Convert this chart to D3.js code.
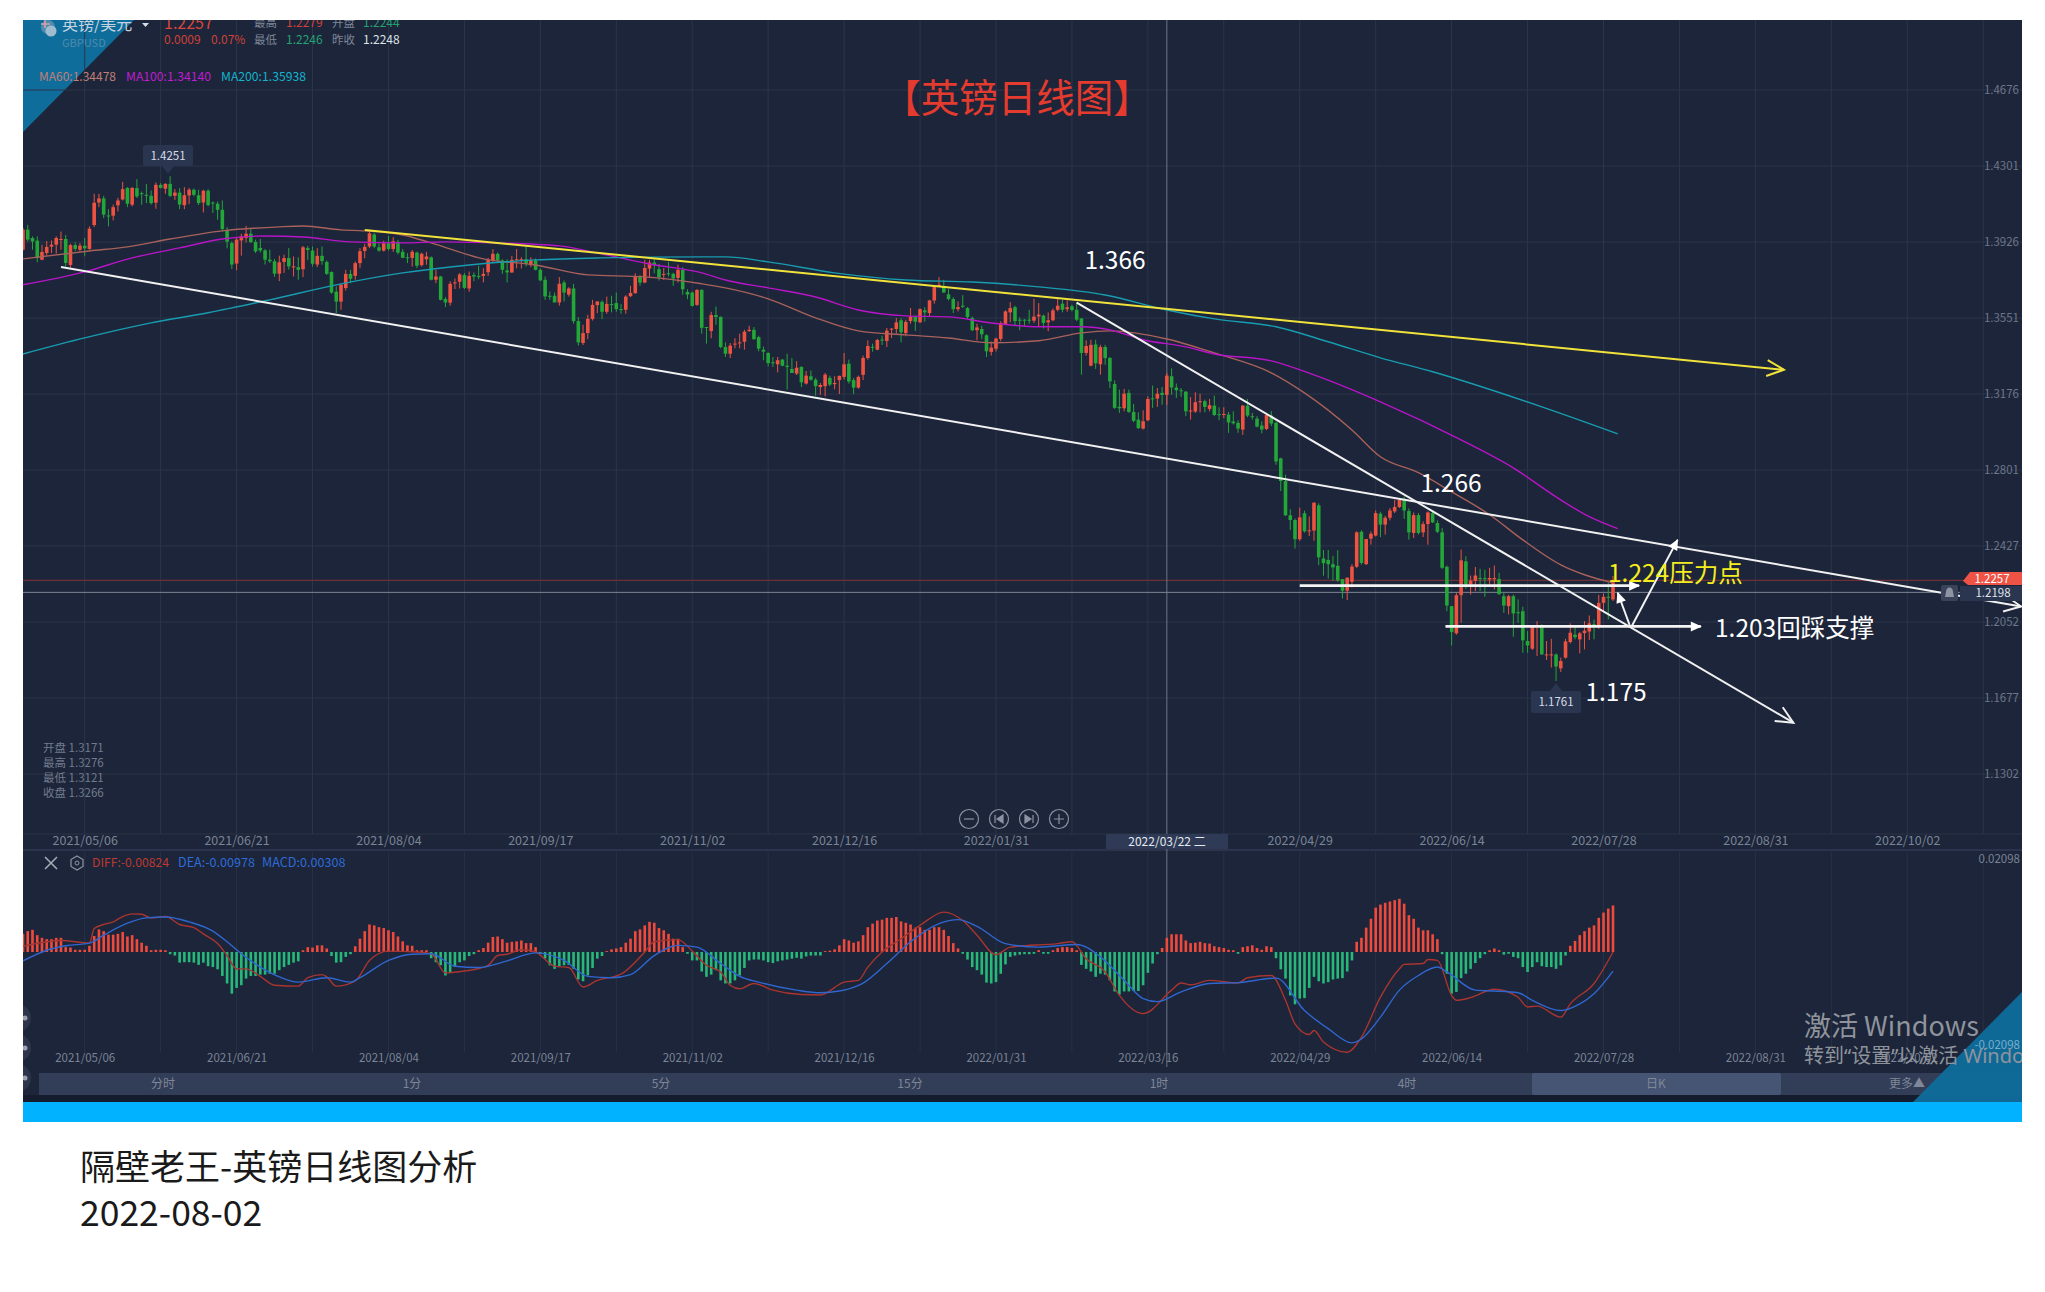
<!DOCTYPE html>
<html>
<head>
<meta charset="utf-8">
<title>GBPUSD</title>
<script src="https://cdnjs.cloudflare.com/ajax/libs/d3/7.8.5/d3.min.js"></script>
<style>
    html, body { margin: 0; padding: 0; background: #fff; }
    svg { display: block; }
    text { font-family: "Noto Sans CJK SC", "Noto Sans", sans-serif; }
</style>
</head>
<body>
<div id="chart"></div>
<script>
// daily candles, index 0 is the left edge of the panel
const opens = [
1.3888,1.3987,1.3946,1.3933,1.3839,1.3872,1.3903,1.3913,1.3938,1.3941,
1.3813,1.3911,1.3888,1.3908,1.3892,1.4010,1.4121,1.4141,1.4057,1.4056,
1.4107,1.4136,1.4193,1.4110,1.4192,1.4167,1.4159,1.4154,1.4120,1.4208,
1.4189,1.4213,1.4154,1.4170,1.4108,1.4156,1.4184,1.4157,1.4121,1.4179,
1.4121,1.4115,1.4085,1.3984,1.3921,1.3820,1.3934,1.3946,1.3967,1.3926,
1.3897,1.3885,1.3839,1.3831,1.3770,1.3828,1.3847,1.3803,1.3802,1.3792,
1.3896,1.3884,1.3815,1.3858,1.3828,1.3778,1.3681,1.3632,1.3699,1.3769,
1.3759,1.3822,1.3882,1.3904,1.3963,1.3900,1.3884,1.3920,1.3892,1.3927,
1.3878,1.3851,1.3848,1.3874,1.3812,1.3841,1.3851,1.3740,1.3756,1.3645,
1.3627,1.3722,1.3730,1.3763,1.3697,1.3763,1.3759,1.3759,1.3777,1.3835,
1.3868,1.3835,1.3786,1.3776,1.3838,1.3835,1.3841,1.3812,1.3835,1.3789,
1.3740,1.3661,1.3661,1.3628,1.3726,1.3667,1.3697,1.3536,1.3428,1.3477,
1.3546,1.3615,1.3631,1.3582,1.3620,1.3625,1.3595,1.3592,1.3659,1.3674,
1.3756,1.3726,1.3795,1.3825,1.3792,1.3766,1.3772,1.3769,1.3749,1.3789,
1.3680,1.3677,1.3616,1.3690,1.3507,1.3487,1.3566,1.3557,1.3408,1.3375,
1.3421,1.3428,1.3434,1.3487,1.3493,1.3457,1.3395,1.3379,1.3333,1.3323,
1.3346,1.3316,1.3300,1.3277,1.3310,1.3228,1.3264,1.3247,1.3211,1.3215,
1.3256,1.3225,1.3245,1.3261,1.3326,1.3245,1.3208,1.3271,1.3354,1.3409,
1.3395,1.3445,1.3438,1.3494,1.3497,1.3540,1.3477,1.3536,1.3556,1.3530,
1.3589,1.3576,1.3638,1.3707,1.3707,1.3668,1.3645,1.3595,1.3612,1.3600,
1.3551,1.3491,1.3497,1.3466,1.3384,1.3400,1.3448,1.3522,1.3579,1.3605,
1.3543,1.3543,1.3543,1.3538,1.3559,1.3563,1.3530,1.3540,1.3592,1.3622,
1.3595,1.3609,1.3592,1.3549,1.3379,1.3316,1.3421,1.3323,1.3408,1.3354,
1.3226,1.3113,1.3106,1.3182,1.3088,1.3050,1.3006,1.3047,1.3155,1.3154,
1.3182,1.3172,1.3264,1.3208,1.3195,1.3188,1.3091,1.3090,1.3136,1.3141,
1.3103,1.3119,1.3077,1.3073,1.3075,1.3041,1.3034,1.3001,1.3119,1.3067,
1.3055,1.3021,1.3004,1.3070,1.3034,1.2859,1.2747,1.2578,1.2555,1.2460,
1.2588,1.2499,1.2503,1.2627,1.2365,1.2358,1.2337,1.2329,1.2263,1.2206,
1.2250,1.2324,1.2497,1.2337,1.2463,1.2478,1.2586,1.2532,1.2566,1.2597,
1.2619,1.2655,1.2599,1.2491,1.2579,1.2494,1.2535,1.2589,1.2540,1.2494,
1.2324,1.2130,1.1996,1.2184,1.2351,1.2237,1.2255,1.2269,1.2268,1.2261,
1.2263,1.2264,1.2179,1.2130,1.2179,1.2100,1.2105,1.1958,1.1920,1.2031,
1.2028,1.1889,1.1889,1.1891,1.1823,1.1876,1.1953,1.1989,1.1966,1.1997,
1.2005,1.2041,1.2028,1.2146,1.2176,1.2163];
const highs = [
1.3995,1.4011,1.3954,1.3954,1.3913,1.3931,1.3934,1.3954,1.3978,1.3961,
1.3918,1.3924,1.3921,1.3946,1.4003,1.4164,1.4164,1.4154,1.4088,1.4111,
1.4144,1.4223,1.4197,1.4197,1.4236,1.4175,1.4213,1.4180,1.4220,1.4216,
1.4216,1.4251,1.4187,1.4192,1.4197,1.4193,1.4190,1.4184,1.4184,1.4187,
1.4126,1.4126,1.4131,1.4000,1.3929,1.3946,1.3967,1.4006,1.3990,1.3938,
1.3941,1.3892,1.3888,1.3843,1.3859,1.3864,1.3896,1.3855,1.3851,1.3907,
1.3907,1.3904,1.3896,1.3904,1.3835,1.3781,1.3707,1.3720,1.3789,1.3789,
1.3830,1.3896,1.3917,1.3983,1.3973,1.3920,1.3933,1.3956,1.3950,1.3937,
1.3891,1.3871,1.3887,1.3879,1.3874,1.3878,1.3855,1.3789,1.3759,1.3655,
1.3732,1.3746,1.3773,1.3773,1.3781,1.3776,1.3809,1.3797,1.3848,1.3891,
1.3874,1.3841,1.3841,1.3858,1.3891,1.3851,1.3904,1.3851,1.3845,1.3797,
1.3756,1.3682,1.3677,1.3753,1.3736,1.3703,1.3720,1.3556,1.3518,1.3567,
1.3641,1.3633,1.3638,1.3657,1.3661,1.3677,1.3620,1.3664,1.3710,1.3772,
1.3764,1.3838,1.3838,1.3841,1.3818,1.3797,1.3828,1.3775,1.3815,1.3802,
1.3693,1.3682,1.3693,1.3693,1.3507,1.3582,1.3608,1.3559,1.3431,1.3428,
1.3451,1.3474,1.3493,1.3513,1.3507,1.3464,1.3411,1.3382,1.3359,1.3359,
1.3349,1.3375,1.3354,1.3338,1.3313,1.3290,1.3293,1.3255,1.3231,1.3280,
1.3267,1.3264,1.3267,1.3379,1.3346,1.3256,1.3267,1.3366,1.3441,1.3425,
1.3448,1.3464,1.3502,1.3502,1.3551,1.3551,1.3543,1.3600,1.3563,1.3599,
1.3605,1.3641,1.3710,1.3753,1.3740,1.3694,1.3654,1.3633,1.3664,1.3605,
1.3559,1.3523,1.3513,1.3471,1.3435,1.3454,1.3535,1.3589,1.3630,1.3612,
1.3554,1.3546,1.3592,1.3646,1.3625,1.3568,1.3579,1.3599,1.3645,1.3641,
1.3638,1.3617,1.3628,1.3551,1.3441,1.3444,1.3444,1.3419,1.3419,1.3359,
1.3244,1.3198,1.3201,1.3198,1.3127,1.3086,1.3096,1.3165,1.3218,1.3206,
1.3211,1.3280,1.3303,1.3228,1.3206,1.3191,1.3162,1.3185,1.3178,1.3149,
1.3152,1.3168,1.3111,1.3111,1.3088,1.3091,1.3047,1.3122,1.3152,1.3083,
1.3067,1.3042,1.3080,1.3093,1.3041,1.2862,1.2778,1.2608,1.2562,1.2616,
1.2601,1.2572,1.2643,1.2637,1.2407,1.2407,1.2378,1.2406,1.2263,1.2273,
1.2337,1.2499,1.2504,1.2461,1.2499,1.2602,1.2596,1.2576,1.2614,1.2655,
1.2658,1.2671,1.2612,1.2592,1.2589,1.2548,1.2597,1.2602,1.2553,1.2515,
1.2330,1.2130,1.2196,1.2409,1.2376,1.2281,1.2323,1.2314,1.2310,1.2319,
1.2330,1.2294,1.2196,1.2186,1.2187,1.2163,1.2127,1.2007,1.2032,1.2056,
1.2040,1.1958,1.1969,1.1897,1.1876,1.1969,1.2045,1.2028,1.2002,1.2056,
1.2084,1.2064,1.2186,1.2192,1.2245,1.2279];
const lows = [
1.3885,1.3929,1.3888,1.3826,1.3836,1.3859,1.3872,1.3869,1.3888,1.3806,
1.3800,1.3882,1.3880,1.3856,1.3888,1.4000,1.4098,1.4044,1.4003,1.4033,
1.4077,1.4131,1.4098,1.4102,1.4143,1.4110,1.4118,1.4111,1.4090,1.4190,
1.4164,1.4147,1.4134,1.4088,1.4088,1.4113,1.4151,1.4108,1.4072,1.4102,
1.4069,1.4036,1.3979,1.3895,1.3793,1.3787,1.3859,1.3924,1.3921,1.3872,
1.3875,1.3815,1.3823,1.3754,1.3733,1.3774,1.3790,1.3756,1.3740,1.3753,
1.3838,1.3805,1.3802,1.3814,1.3764,1.3671,1.3576,1.3592,1.3687,1.3723,
1.3740,1.3797,1.3846,1.3896,1.3896,1.3878,1.3879,1.3884,1.3878,1.3864,
1.3848,1.3822,1.3805,1.3797,1.3805,1.3814,1.3737,1.3723,1.3638,1.3605,
1.3612,1.3694,1.3697,1.3694,1.3681,1.3733,1.3743,1.3727,1.3759,1.3825,
1.3825,1.3769,1.3727,1.3773,1.3796,1.3796,1.3805,1.3802,1.3786,1.3733,
1.3641,1.3641,1.3628,1.3612,1.3633,1.3657,1.3523,1.3415,1.3418,1.3447,
1.3539,1.3575,1.3546,1.3572,1.3579,1.3582,1.3572,1.3572,1.3654,1.3670,
1.3710,1.3723,1.3748,1.3772,1.3736,1.3739,1.3756,1.3710,1.3726,1.3666,
1.3644,1.3608,1.3611,1.3474,1.3425,1.3451,1.3518,1.3402,1.3359,1.3354,
1.3402,1.3402,1.3395,1.3483,1.3444,1.3387,1.3343,1.3313,1.3310,1.3283,
1.3313,1.3198,1.3280,1.3270,1.3211,1.3223,1.3242,1.3169,1.3172,1.3165,
1.3215,1.3199,1.3176,1.3248,1.3228,1.3176,1.3202,1.3245,1.3346,1.3385,
1.3392,1.3418,1.3408,1.3453,1.3474,1.3431,1.3461,1.3523,1.3487,1.3527,
1.3533,1.3559,1.3622,1.3704,1.3677,1.3638,1.3576,1.3584,1.3600,1.3546,
1.3487,1.3441,1.3448,1.3359,1.3366,1.3386,1.3436,1.3517,1.3530,1.3513,
1.3491,1.3510,1.3523,1.3527,1.3507,1.3500,1.3486,1.3535,1.3584,1.3579,
1.3582,1.3584,1.3536,1.3272,1.3366,1.3313,1.3300,1.3272,1.3321,1.3205,
1.3103,1.3083,1.3091,1.3083,1.3037,1.3004,1.3001,1.3042,1.3108,1.3113,
1.3124,1.3123,1.3173,1.3157,1.3162,1.3067,1.3050,1.3083,1.3086,1.3086,
1.3091,1.3067,1.3047,1.3057,1.2985,1.3026,1.2985,1.2975,1.3062,1.3050,
1.3011,1.2982,1.2998,1.3018,1.2827,1.2698,1.2575,1.2506,1.2414,1.2452,
1.2493,1.2476,1.2453,1.2332,1.2280,1.2266,1.2255,1.2250,1.2168,1.2160,
1.2222,1.2319,1.2335,1.2333,1.2433,1.2474,1.2471,1.2483,1.2553,1.2589,
1.2614,1.2560,1.2458,1.2466,1.2483,1.2471,1.2433,1.2540,1.2491,1.2314,
1.2105,1.1936,1.1989,1.2048,1.2215,1.2187,1.2204,1.2204,1.2176,1.2237,
1.2212,1.2186,1.2097,1.2089,1.1979,1.2048,1.1900,1.1900,1.1914,1.1884,
1.1889,1.1864,1.1827,1.1761,1.1805,1.1871,1.1946,1.1966,1.1897,1.1917,
1.1963,1.1966,1.2018,1.2100,1.2064,1.2155];
const closes = [
1.3987,1.3938,1.3929,1.3847,1.3877,1.3902,1.3913,1.3946,1.3941,1.3823,
1.3911,1.3892,1.3908,1.3895,1.3992,1.4120,1.4141,1.4061,1.4052,1.4098,
1.4131,1.4187,1.4115,1.4193,1.4151,1.4164,1.4157,1.4118,1.4208,1.4193,
1.4213,1.4154,1.4170,1.4111,1.4157,1.4184,1.4159,1.4118,1.4179,1.4108,
1.4116,1.4085,1.3990,1.3928,1.3815,1.3938,1.3954,1.3967,1.3926,1.3880,
1.3885,1.3839,1.3831,1.3770,1.3826,1.3847,1.3806,1.3806,1.3789,1.3900,
1.3887,1.3819,1.3858,1.3832,1.3769,1.3677,1.3632,1.3715,1.3769,1.3745,
1.3822,1.3881,1.3902,1.3969,1.3904,1.3884,1.3920,1.3892,1.3930,1.3874,
1.3848,1.3846,1.3878,1.3809,1.3868,1.3855,1.3740,1.3756,1.3641,1.3628,
1.3720,1.3727,1.3766,1.3700,1.3759,1.3756,1.3756,1.3769,1.3838,1.3868,
1.3835,1.3789,1.3776,1.3838,1.3841,1.3841,1.3819,1.3835,1.3789,1.3737,
1.3658,1.3658,1.3628,1.3720,1.3677,1.3697,1.3536,1.3431,1.3477,1.3547,
1.3616,1.3633,1.3582,1.3621,1.3616,1.3595,1.3592,1.3657,1.3675,1.3756,
1.3726,1.3798,1.3825,1.3813,1.3752,1.3769,1.3769,1.3746,1.3789,1.3693,
1.3667,1.3611,1.3690,1.3503,1.3503,1.3566,1.3556,1.3408,1.3375,1.3415,
1.3425,1.3431,1.3484,1.3493,1.3447,1.3400,1.3385,1.3329,1.3329,1.3343,
1.3316,1.3310,1.3280,1.3306,1.3234,1.3267,1.3247,1.3215,1.3221,1.3272,
1.3223,1.3231,1.3266,1.3323,1.3238,1.3208,1.3261,1.3354,1.3413,1.3405,
1.3443,1.3441,1.3489,1.3499,1.3530,1.3481,1.3532,1.3559,1.3533,1.3595,
1.3579,1.3638,1.3704,1.3715,1.3677,1.3645,1.3595,1.3605,1.3607,1.3556,
1.3491,1.3505,1.3471,1.3387,1.3405,1.3450,1.3527,1.3584,1.3600,1.3536,
1.3538,1.3538,1.3540,1.3558,1.3568,1.3527,1.3540,1.3589,1.3612,1.3592,
1.3604,1.3591,1.3543,1.3379,1.3413,1.3419,1.3328,1.3408,1.3354,1.3239,
1.3108,1.3106,1.3178,1.3088,1.3044,1.3008,1.3042,1.3152,1.3152,1.3178,
1.3172,1.3267,1.3209,1.3195,1.3190,1.3091,1.3095,1.3136,1.3141,1.3113,
1.3121,1.3073,1.3073,1.3078,1.3036,1.3032,1.3006,1.3119,1.3070,1.3062,
1.3016,1.3001,1.3073,1.3031,1.2844,1.2747,1.2578,1.2555,1.2460,1.2568,
1.2499,1.2504,1.2640,1.2371,1.2342,1.2337,1.2321,1.2257,1.2206,1.2270,
1.2325,1.2494,1.2343,1.2461,1.2487,1.2589,1.2532,1.2566,1.2602,1.2619,
1.2655,1.2602,1.2494,1.2579,1.2491,1.2535,1.2592,1.2543,1.2497,1.2319,
1.2133,1.2002,1.2184,1.2356,1.2237,1.2256,1.2281,1.2264,1.2263,1.2269,
1.2269,1.2189,1.2133,1.2179,1.2094,1.2096,1.1961,1.1936,1.2027,1.2035,
1.1892,1.1892,1.1892,1.1832,1.1859,1.1956,1.1999,1.1977,1.1996,1.2009,
1.2045,1.2038,1.2146,1.2176,1.2171,1.2248];

const ma60Index = [0,14,22,31,42,54,59,67,72,80,86,97,108,119,131,143,148,157,167,176,186,195,204,214,223,229,241,251,263,270,280,286,294,301,309,316,324,329,335];
const ma60Values = [1.3843,1.3882,1.3902,1.3941,1.3981,1.4001,1.4005,1.3986,1.3981,1.3961,1.3922,1.3843,1.3813,1.3764,1.3754,1.3720,1.3700,1.3646,1.3552,1.3488,1.3468,1.3453,1.3429,1.3439,1.3478,1.3488,1.3448,1.3379,1.3281,1.3182,1.2999,1.2867,1.2788,1.2694,1.2581,1.2457,1.2334,1.2285,1.2245];
const ma100Index = [0,13,23,33,42,51,59,69,80,89,99,113,121,132,143,148,157,167,176,186,195,204,214,223,229,236,245,251,263,272,286,303,314,323,330,336];
const ma100Values = [1.3715,1.3779,1.3848,1.3897,1.3941,1.3956,1.3951,1.3927,1.3922,1.3927,1.3922,1.3907,1.3872,1.3818,1.3774,1.3739,1.3700,1.3655,1.3591,1.3562,1.3557,1.3527,1.3508,1.3508,1.3493,1.3444,1.3409,1.3374,1.3340,1.3271,1.3138,1.2950,1.2812,1.2669,1.2571,1.2512];
const ma200Index = [0,13,27,39,52,66,80,94,108,122,143,148,157,171,186,200,214,228,241,251,264,275,286,297,320,336];
const ma200Values = [1.3374,1.3453,1.3527,1.3577,1.3641,1.3715,1.3774,1.3813,1.3838,1.3848,1.3853,1.3853,1.3828,1.3774,1.3739,1.3729,1.3705,1.3665,1.3591,1.3547,1.3508,1.3434,1.3355,1.3286,1.3113,1.2980];

const macdHist = [
.0041,.0047,.0050,.0038,.0032,.0029,.0029,.0032,.0032,.0011,
.0010,.0005,.0005,.0005,.0014,.0036,.0051,.0047,.0039,.0039,
.0041,.0045,.0035,.0038,.0029,.0021,.0014,.0004,.0005,.0005,
.0004,-.0005,-.0008,-.0024,-.0023,-.0023,-.0024,-.0029,-.0024,-.0032,
-.0034,-.0039,-.0054,-.0071,-.0094,-.0081,-.0075,-.0060,-.0054,-.0054,
-.0051,-.0051,-.0049,-.0049,-.0041,-.0034,-.0029,-.0024,-.0021,.0004,
.0011,.0010,.0015,.0015,.0008,-.0009,-.0024,-.0023,-.0011,-.0005,
.0013,.0030,.0047,.0062,.0060,.0056,.0054,.0049,.0045,.0035,
.0024,.0015,.0014,.0004,.0004,.0004,-.0014,-.0023,-.0030,-.0053,
-.0047,-.0034,-.0023,-.0019,-.0009,-.0005,.0004,.0009,.0021,.0034,
.0035,.0029,.0021,.0023,.0024,.0026,.0020,.0020,.0011,-.0004,
-.0015,-.0030,-.0038,-.0032,-.0030,-.0029,-.0038,-.0062,-.0066,-.0053,
-.0036,-.0015,-.0009,.0002,.0006,.0008,.0011,.0021,.0030,.0047,
.0051,.0060,.0068,.0066,.0054,.0049,.0041,.0030,.0030,.0011,
-.0004,-.0019,-.0019,-.0044,-.0056,-.0051,-.0041,-.0064,-.0071,-.0071,
-.0064,-.0053,-.0036,-.0019,-.0017,-.0017,-.0019,-.0023,-.0025,-.0021,
-.0019,-.0017,-.0015,-.0013,-.0015,-.0010,-.0008,-.0008,-.0008,.0002,
.0003,.0006,.0015,.0029,.0026,.0021,.0024,.0038,.0056,.0064,
.0071,.0073,.0077,.0077,.0079,.0069,.0066,.0062,.0055,.0056,
.0050,.0050,.0056,.0056,.0050,.0036,.0020,.0008,-.0004,-.0017,
-.0034,-.0041,-.0051,-.0069,-.0071,-.0068,-.0049,-.0028,-.0011,-.0008,
-.0006,-.0005,-.0005,-.0004,.0004,-.0004,-.0004,.0004,.0009,.0011,
.0011,.0009,.0004,-.0029,-.0038,-.0044,-.0056,-.0049,-.0051,-.0064,
-.0089,-.0096,-.0089,-.0089,-.0088,-.0088,-.0075,-.0047,-.0026,-.0005,
.0009,.0032,.0040,.0040,.0040,.0026,.0020,.0021,.0023,.0020,
.0019,.0013,.0011,.0009,.0005,.0004,-.0004,.0011,.0013,.0015,
.0009,.0005,.0013,.0011,-.0014,-.0039,-.0060,-.0098,-.0118,-.0105,
-.0104,-.0081,-.0056,-.0066,-.0071,-.0068,-.0062,-.0060,-.0059,-.0044,
-.0019,.0023,.0032,.0055,.0075,.0100,.0107,.0111,.0114,.0117,
.0120,.0109,.0083,.0075,.0055,.0049,.0049,.0040,.0029,-.0005,
-.0049,-.0094,-.0090,-.0059,-.0049,-.0038,-.0025,-.0014,-.0005,.0004,
.0008,.0004,-.0006,-.0004,-.0011,-.0014,-.0034,-.0045,-.0034,-.0023,
-.0032,-.0034,-.0034,-.0038,-.0030,-.0008,.0014,.0025,.0038,.0047,
.0055,.0060,.0077,.0089,.0098,.0105];
const diffIndex = [0,8,14,15,17,19,21,23,25,27,30,33,36,38,41,43,45,47,50,53,58,60,63,64,66,70,73,77,83,86,89,93,98,100,102,105,108,112,115,118,121,126,131,133,138,141,144,147,149,151,154,158,164,168,173,176,178,181,185,189,194,198,201,205,208,218,221,224,228,231,236,242,244,246,250,256,258,263,266,268,271,272,274,279,282,286,290,291,295,296,298,301,302,305,310,315,317,319,324,326,331,335];
const diffValues = [.0013,.0026,.0020,.0053,.0062,.0068,.0080,.0086,.0085,.0077,.0080,.0062,.0055,.0041,.0019,-.0008,-.0038,-.0038,-.0055,-.0075,-.0077,-.0058,-.0051,-.0056,-.0077,-.0065,-.0019,.0002,0,-.0004,-.0047,-.0043,-.0030,-.0008,-.0005,.0005,0,-.0032,-.0035,-.0079,-.0064,-.0050,0,.0023,.0028,.0002,-.0030,-.0045,-.0075,-.0083,-.0071,-.0086,-.0096,-.0097,-.0068,-.0064,-.0034,0,.0030,.0060,.0090,.0071,.0038,-.0006,.0011,.0019,.0023,-.0015,-.0045,-.0098,-.0139,-.0086,-.0070,-.0074,-.0064,-.0070,-.0058,-.0053,-.0109,-.0162,-.0186,-.0177,-.0203,-.0226,-.0192,-.0102,-.0038,-.0028,-.0026,-.0017,-.0019,-.0098,-.0109,-.0103,-.0084,-.0102,-.0124,-.0122,-.0147,-.0117,-.0071,0];
const deaIndex = [0,5,9,14,17,22,26,30,35,40,43,46,50,54,58,64,69,71,77,82,86,91,96,102,108,114,119,124,128,133,138,142,147,151,155,163,168,172,177,182,187,193,197,201,207,214,222,227,232,236,239,244,250,256,264,270,275,280,282,286,290,294,298,300,306,310,315,318,324,328,331,335];
const deaValues = [-.0020,.0004,.0014,.0020,.0038,.0065,.0077,.0079,.0068,.0047,.0023,-.0004,-.0034,-.0056,-.0068,-.0058,-.0068,-.0058,-.0019,-.0005,-.0004,-.0032,-.0035,-.0020,-.0002,-.0019,-.0055,-.0058,-.0051,-.0008,.0015,.0011,-.0026,-.0055,-.0068,-.0086,-.0092,-.0088,-.0070,-.0026,.0023,.0064,.0073,.0058,.0019,.0011,.0017,-.0011,-.0064,-.0105,-.0112,-.0090,-.0071,-.0069,-.0059,-.0132,-.0173,-.0205,-.0196,-.0147,-.0086,-.0053,-.0034,-.0045,-.0086,-.0088,-.0092,-.0109,-.0132,-.0117,-.0094,-.0043];

const priceTicks = [1.4676,1.4301,1.3926,1.3551,1.3176,1.2801,1.2427,1.2052,1.1677,1.1302];
const dateLabels = ["2021/05/06","2021/06/21","2021/08/04","2021/09/17","2021/11/02","2021/12/16","2022/01/31","2022/03/16","2022/04/29","2022/06/14","2022/07/28","2022/08/31","2022/10/02"];
const dateIndex = dateLabels.map((d, i) => 13 + i * 32);
const lastPrice = 1.2257;
const alertPrice = 1.2198;
const crossIndex = 241;

// hand drawn lines on the chart, each from [index, price] to [index, price]
const yellowLine = [[72, 1.3986], [371, 1.3296]];
const lowerLine = [[8, 1.3803], [421, 1.2128]];
const fallLine = [[222, 1.3627], [373, 1.1555]];
const pressLine = [[269, 1.2231], [340.5, 1.2231]];
const supportLine = [[299.7, 1.2030], [353.5, 1.2030]];
const upLine = [[339, 1.2033], [348.6, 1.2457]];
const backLine = [[338.5, 1.2037], [336, 1.2196]];

const tabLabels = ["分时", "1分", "5分", "15分", "1时", "4时", "日K", "更多▲"];
const tabCentres = [163, 412, 661, 910, 1159, 1407, 1656, 1907];

const panel = { left: 23, right: 2022, top: 20, bottom: 1102 };
const bg = "#1c2539";
const gridColor = "#2c3549";
const dimText = "#6d7689";
const upColor = "#ee5240";
const downColor = "#23a739";

const svg = d3.select("#chart").append("svg")
    .attr("width", 2045)
    .attr("height", 1292)
    .style("background", "#fff");

svg.append("defs").append("clipPath").attr("id", "panel-clip")
    .append("rect")
    .attr("x", panel.left).attr("y", panel.top)
    .attr("width", panel.right - panel.left)
    .attr("height", panel.bottom - panel.top);

const openHead = svg.select("defs").append("marker")
    .attr("id", "open-head").attr("markerUnits", "userSpaceOnUse")
    .attr("viewBox", "-20 -12 24 24").attr("markerWidth", 24).attr("markerHeight", 24)
    .attr("refX", 0).attr("refY", 0).attr("orient", "auto");
openHead.append("path").attr("d", "M-17,-8 L0,0 L-17,8").attr("fill", "none").attr("stroke", "context-stroke").attr("stroke-width", 2);

const fillHead = svg.select("defs").append("marker")
    .attr("id", "fill-head").attr("markerUnits", "userSpaceOnUse")
    .attr("viewBox", "-14 -8 16 16").attr("markerWidth", 16).attr("markerHeight", 16)
    .attr("refX", 0).attr("refY", 0).attr("orient", "auto");
fillHead.append("path").attr("d", "M-10,-5 L1,0 L-10,5 Z").attr("fill", "#fff");

const root = svg.append("g").attr("clip-path", "url(#panel-clip)");

root.append("rect")
    .attr("x", panel.left).attr("y", panel.top)
    .attr("width", panel.right - panel.left)
    .attr("height", panel.bottom - panel.top)
    .attr("fill", bg);

root.append("path")
    .attr("d", "M23,20 L134,20 L23,132 Z")
    .attr("fill", "#0f6d9c");

const x = d3.scaleLinear().domain([0, 335]).range([23, 1613]);
const y = d3.scaleLinear().domain([1.4676, 1.1302]).range([90, 774]);
const macdY = d3.scaleLinear().domain([0.02098, -0.02098]).range([859, 1045]);

// grid
const gridIndex = d3.range(13, 425, 16);
const mainGrid = root.append("g");
mainGrid.selectAll("line.h")
    .data(priceTicks).enter().append("line")
    .attr("x1", panel.left).attr("x2", panel.right)
    .attr("y1", d => y(d)).attr("y2", d => y(d))
    .attr("stroke", gridColor);
mainGrid.selectAll("line.v")
    .data(gridIndex).enter().append("line")
    .attr("x1", d => x(d)).attr("x2", d => x(d))
    .attr("y1", panel.top).attr("y2", 834)
    .attr("stroke", gridColor);
root.selectAll("line.macd-grid")
    .data(gridIndex).enter().append("line")
    .attr("x1", d => x(d)).attr("x2", d => x(d))
    .attr("y1", 852).attr("y2", 1052)
    .attr("stroke", "#283145");

root.append("line").attr("x1", panel.left).attr("x2", panel.right).attr("y1", 834).attr("y2", 834).attr("stroke", "#2c3549");
root.append("line").attr("x1", panel.left).attr("x2", panel.right).attr("y1", 850).attr("y2", 850).attr("stroke", "#3b4560");

// price axis
const priceAxis = root.append("g")
    .attr("transform", "translate(2019,0)")
    .call(d3.axisLeft(y).tickValues(priceTicks).tickSize(0).tickPadding(0).tickFormat(d3.format(".4f")));
priceAxis.select(".domain").remove();
priceAxis.selectAll("text").attr("fill", dimText).style("font-size", "11.5px");

// time axes
const topAxis = root.append("g")
    .attr("transform", "translate(0,836)")
    .call(d3.axisBottom(x).tickValues(dateIndex).tickSize(0).tickPadding(0)
        .tickFormat((d, i) => i === 7 ? "" : dateLabels[i]));
topAxis.select(".domain").remove();
topAxis.selectAll("text").attr("fill", "#7b8496").style("font-size", "12.5px");

const macdAxis = root.append("g")
    .attr("transform", "translate(0,1054)")
    .call(d3.axisBottom(x).tickValues(dateIndex).tickSize(0).tickPadding(0)
        .tickFormat((d, i) => dateLabels[i]));
macdAxis.select(".domain").remove();
macdAxis.selectAll("text").attr("fill", "#7b8496").style("font-size", "11.5px");

// last price and alert lines
root.append("line").attr("x1", panel.left).attr("x2", panel.right)
    .attr("y1", y(lastPrice)).attr("y2", y(lastPrice))
    .attr("stroke", "#6e3038").attr("stroke-width", 1.2);
root.append("line").attr("x1", panel.left).attr("x2", panel.right)
    .attr("y1", y(alertPrice)).attr("y2", y(alertPrice))
    .attr("stroke", "#7f8797").attr("stroke-width", 1);
root.append("line").attr("x1", x(crossIndex)).attr("x2", x(crossIndex))
    .attr("y1", panel.top).attr("y2", 1067)
    .attr("stroke", "#6f7889").attr("stroke-width", 1);

// candles
const candleGroup = root.append("g");
const candleColor = i => closes[i] >= opens[i] ? upColor : downColor;
candleGroup.selectAll("line")
    .data(opens).enter().append("line")
    .attr("x1", (d, i) => x(i)).attr("x2", (d, i) => x(i))
    .attr("y1", (d, i) => y(highs[i])).attr("y2", (d, i) => y(lows[i]))
    .attr("stroke", (d, i) => candleColor(i))
    .attr("stroke-width", 1);
candleGroup.selectAll("rect")
    .data(opens).enter().append("rect")
    .attr("x", (d, i) => x(i) - 1.8)
    .attr("width", 3.6)
    .attr("y", (d, i) => y(Math.max(opens[i], closes[i])))
    .attr("height", (d, i) => Math.max(1, Math.abs(y(opens[i]) - y(closes[i]))))
    .attr("fill", (d, i) => candleColor(i));

// moving averages
const maLine = (ids, vals, color) => {
    const line = d3.line()
        .x((d, i) => x(ids[i]))
        .y(d => y(d))
        .curve(d3.curveMonotoneX);
    root.append("path")
        .attr("d", line(vals))
        .attr("fill", "none")
        .attr("stroke", color)
        .attr("stroke-width", 1.4);
};
maLine(ma60Index, ma60Values, "#a8615b");
maLine(ma100Index, ma100Values, "#b814c8");
maLine(ma200Index, ma200Values, "#189cb0");

// trend lines
const drawLine = (pts, color, width, head) => {
    root.append("line")
        .attr("x1", x(pts[0][0])).attr("y1", y(pts[0][1]))
        .attr("x2", x(pts[1][0])).attr("y2", y(pts[1][1]))
        .attr("stroke", color)
        .attr("stroke-width", width)
        .attr("marker-end", head ? `url(#${head})` : null);
};
drawLine(yellowLine, "#f2e33b", 2, "open-head");
drawLine(lowerLine, "#f1f1f1", 2, "open-head");
drawLine(fallLine, "#f1f1f1", 2, "open-head");
drawLine(pressLine, "#f4f4f4", 2.6, "fill-head");
drawLine(supportLine, "#f4f4f4", 2.6, "fill-head");
drawLine(upLine, "#f4f4f4", 2, "fill-head");
drawLine(backLine, "#f4f4f4", 2, "fill-head");

// macd
const macdGroup = root.append("g");
macdGroup.selectAll("rect")
    .data(macdHist).enter().append("rect")
    .attr("x", (d, i) => x(i) - 1.3)
    .attr("width", 2.6)
    .attr("y", d => Math.min(macdY(d), macdY(0)))
    .attr("height", d => Math.abs(macdY(d) - macdY(0)))
    .attr("fill", d => d >= 0 ? "#f04a3c" : "#27b97a");
const macdLine = (ids, vals, color) => {
    const line = d3.line()
        .x((d, i) => x(ids[i]))
        .y(d => macdY(d))
        .curve(d3.curveMonotoneX);
    macdGroup.append("path")
        .attr("d", line(vals))
        .attr("fill", "none")
        .attr("stroke", color)
        .attr("stroke-width", 1.4);
};
macdLine(diffIndex, diffValues, "#a8352f");
macdLine(deaIndex, deaValues, "#2f66cf");

// text helper
const label = (px, py, str, size, color, anchor) => {
    return root.append("text")
        .attr("x", px).attr("y", py)
        .attr("dominant-baseline", "middle")
        .attr("text-anchor", anchor || "start")
        .attr("font-size", size)
        .attr("fill", color)
        .text(str);
};

// header
root.append("circle").attr("cx", 48).attr("cy", 27).attr("r", 7).attr("fill", "#4f8db0");
root.append("path").attr("d", "M41,24 H50 M45,20 V28").attr("stroke", "#d8a0a8").attr("stroke-width", 1.6);
root.append("circle").attr("cx", 51).attr("cy", 31).attr("r", 5.5).attr("fill", "#9fbdcf");
label(62, 26, "英镑/美元", 16, "#c4d3df");
root.append("path").attr("d", "M142,23 L149,23 L145.5,27 Z").attr("fill", "#d5dde6");
label(62, 44, "GBPUSD", 11, "#4f8aab");
label(164, 25, "1.2257", 16, "#d8463b");
label(164, 41, "0.0009", 12, "#cf4238");
label(211, 41, "0.07%", 12, "#cf4238");
label(254, 24, "最高", 11.5, "#7d8798");
label(286, 24, "1.2279", 12, "#cf4238");
label(332, 24, "开盘", 11.5, "#7d8798");
label(363, 24, "1.2244", 12, "#25a173");
label(254, 41, "最低", 11.5, "#7d8798");
label(286, 41, "1.2246", 12, "#25a173");
label(332, 41, "昨收", 11.5, "#7d8798");
label(363, 41, "1.2248", 12, "#dde2e8");
label(39, 78, "MA60:1.34478", 12, "#c08077");
label(126, 78, "MA100:1.34140", 12.2, "#c21bd3");
label(221, 78, "MA200:1.35938", 12.2, "#14b4cc");

// crosshair readout
label(43, 749, "开盘 1.3171", 11.5, "#727b8d");
label(43, 764, "最高 1.3276", 11.5, "#727b8d");
label(43, 779, "最低 1.3121", 11.5, "#727b8d");
label(43, 794, "收盘 1.3266", 11.5, "#727b8d");

// title and notes
label(1017, 102, "【英镑日线图】", 38.5, "#e53b2f", "middle");
label(1115, 262, "1.366", 24.5, "#fff", "middle");
label(1451, 485, "1.266", 24.5, "#fff", "middle");
label(1616, 694, "1.175", 24.5, "#fff", "middle");
label(1608, 575, "1.224压力点", 24.5, "#f5ee1f");
label(1715, 630, "1.203回踩支撑", 24.5, "#fff");

// high / low tags
const tag = (cx, top, bottom, tipY, str) => {
    const tipBase = tipY < top ? top : bottom;
    root.append("rect").attr("x", cx - 25).attr("y", top).attr("width", 50).attr("height", bottom - top).attr("rx", 2).attr("fill", "#2a3550");
    root.append("path").attr("d", `M${cx - 6},${tipBase} L${cx},${tipY} L${cx + 6},${tipBase} Z`).attr("fill", "#2a3550");
    label(cx, (top + bottom) / 2 + 1, str, 11.5, "#d7dce4", "middle");
};
tag(168, 145, 166, 174, "1.4251");
tag(1556, 691, 713, 683, "1.1761");

// right side price tags
root.append("path").attr("d", "M1963,581 L1970,572 L2022,572 L2022,585 L1968,585 Z").attr("fill", "#ef5346");
label(1992, 580, "1.2257", 11.5, "#fff", "middle");
root.append("rect").attr("x", 1960).attr("y", 586).attr("width", 62).attr("height", 15).attr("fill", "#2a3550");
label(1993, 594, "1.2198", 11.5, "#dfe3ea", "middle");
root.append("rect").attr("x", 1941).attr("y", 585).attr("width", 17).attr("height", 16).attr("rx", 2).attr("fill", "#3a4359");
root.append("path").attr("d", "M1945,597 L1946,592 C1946,586 1953,586 1953,592 L1954,597 Z").attr("fill", "#8d95a4");

// zoom buttons under the main chart
const buttons = [969, 999, 1029, 1059];
const glyphs = ["M-5,0 H5", "M-4,-4 V4 M4,-4 L-2,0 L4,4 Z", "M4,-4 V4 M-4,-4 L2,0 L-4,4 Z", "M-5,0 H5 M0,-5 V5"];
buttons.forEach((cx, i) => {
    const b = root.append("g").attr("transform", `translate(${cx},819)`);
    b.append("circle").attr("r", 9.5).attr("fill", "none").attr("stroke", "#8b93a3").attr("stroke-width", 1.2);
    b.append("path").attr("d", glyphs[i]).attr("fill", "#8b93a3").attr("stroke", "#8b93a3").attr("stroke-width", 1.2);
});

// crosshair date box
root.append("rect").attr("x", 1106).attr("y", 834).attr("width", 122).attr("height", 15).attr("fill", "#2e3a56");
label(1167, 843, "2022/03/22 二", 12, "#e6e9ef", "middle");

// macd header
root.append("path").attr("d", "M45,857 L57,869 M57,857 L45,869").attr("stroke", "#a8aeb9").attr("stroke-width", 1.5);
root.append("path").attr("d", "M77,856 L83,859.5 L83,866.5 L77,870 L71,866.5 L71,859.5 Z").attr("fill", "none").attr("stroke", "#8d95a4").attr("stroke-width", 1.2);
root.append("circle").attr("cx", 77).attr("cy", 863).attr("r", 2).attr("fill", "none").attr("stroke", "#8d95a4");
label(92, 864, "DIFF:-0.00824", 12.2, "#bd3a30");
label(178, 864, "DEA:-0.00978", 12.6, "#2e6bd8");
label(262, 864, "MACD:0.00308", 12.6, "#2e6bd8");
label(2020, 860, "0.02098", 11.5, "#7b8496", "end");

// left dock stubs
[1018, 1048, 1078].forEach(cy => {
    root.append("circle").attr("cx", 17).attr("cy", cy).attr("r", 14).attr("fill", "#2c3549");
    root.append("circle").attr("cx", 25).attr("cy", cy).attr("r", 2.5).attr("fill", "#9aa2b0");
});

// tab bar
root.append("rect").attr("x", 39).attr("y", 1073).attr("width", 1983).attr("height", 22).attr("fill", "#323d57");
root.append("rect").attr("x", 23).attr("y", 1095).attr("width", 1999).attr("height", 7).attr("fill", "#151c2d");
root.append("rect").attr("x", 1532).attr("y", 1073).attr("width", 249).attr("height", 22).attr("rx", 2).attr("fill", "#475574");
tabLabels.forEach((t, i) => {
    label(tabCentres[i], 1085, t, 12, "#7f8798", "middle");
});

// corner triangle and the activation watermark sit on top
root.append("path")
    .attr("d", "M2022,992 L2022,1102 L1913,1102 Z")
    .attr("fill", "#0f6d9c").attr("fill-opacity", 0.95);
label(2020, 1046, "-0.02098", 11.5, "#79aecb", "end");
label(1804, 1029, "激活 Windows", 27, "#8f949c");
label(1804, 1058, "转到“设置”以激活 Windows", 20, "#8f949c").style("font-family", '"Noto Sans", "Noto Sans CJK SC", sans-serif');

// page footer
svg.append("rect").attr("x", panel.left).attr("y", 1102).attr("width", panel.right - panel.left).attr("height", 20).attr("fill", "#00b2ff");
svg.append("text").attr("x", 80).attr("y", 1170).attr("dominant-baseline", "middle").attr("font-size", 35).attr("fill", "#1a1a1a").text("隔壁老王-英镑日线图分析");
svg.append("text").attr("x", 80).attr("y", 1216).attr("dominant-baseline", "middle").attr("font-size", 35.5).attr("fill", "#1a1a1a").text("2022-08-02");
</script>
</body>
</html>
